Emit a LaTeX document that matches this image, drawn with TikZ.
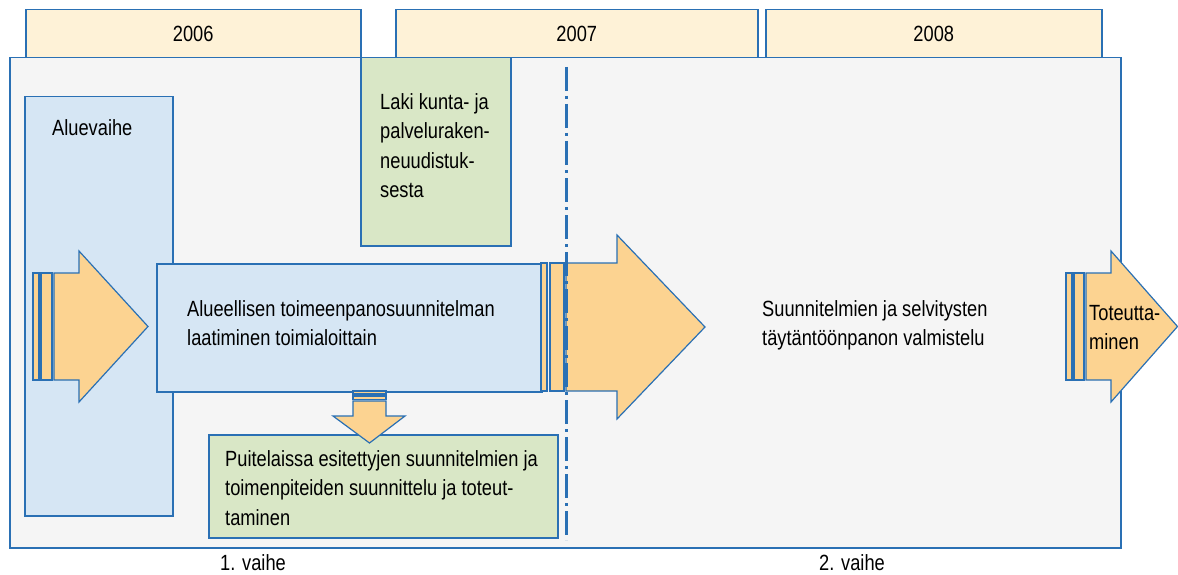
\documentclass[tikz,border=0pt]{standalone}
\usepackage{fontspec}
\setmainfont{Liberation Sans}[FakeStretch=0.83]
\usetikzlibrary{positioning}
\definecolor{rim}{HTML}{2A70B4}
\definecolor{cream}{HTML}{FEF2D7}
\definecolor{paper}{HTML}{F5F5F5}
\definecolor{skyfill}{HTML}{D6E6F4}
\definecolor{leaf}{HTML}{D9E7C6}
\definecolor{apricot}{HTML}{FCD391}

\tikzset{
  frame/.style={draw=rim, line width=1.5pt, inner sep=0pt, anchor=north west},
  yearbox/.style={frame, fill=cream},
  bluebox/.style={frame, fill=skyfill},
  greenbox/.style={frame, fill=leaf},
  arrowfill/.style={draw=rim, line width=1.2pt, fill=apricot, line join=miter},
  txt/.style={inner sep=0pt, align=left, anchor=north west, font=\fontsize{22}{29.5}\selectfont},
  phaseline/.style={draw=rim, line width=3pt, dash pattern=on 24pt off 5pt on 3pt off 5pt}
}

\begin{document}
\begin{tikzpicture}[x=1pt, y=-1pt]
  \useasboundingbox (0,0) rectangle (1178,575);

  % main frame
  \node[frame, fill=paper, minimum width=1111pt, minimum height=490pt] (main) at (9,57) {};

  % years
  \node[yearbox, minimum width=335pt, minimum height=48pt] (y1) at (25,9) {};
  \node[yearbox, minimum width=362pt, minimum height=48pt] (y2) at (395,9) {};
  \node[yearbox, minimum width=336pt, minimum height=48pt] (y3) at (765,9) {};
  \node[txt, anchor=center] at (y1.center) {2006};
  \node[txt, anchor=center] at (y2.center) {2007};
  \node[txt, anchor=center] at (y3.center) {2008};

  % law box
  \node[greenbox, minimum width=150pt, minimum height=188pt] (laki) at (360,57) {};
  \node[txt] (lakitxt) at (380,93) {Laki kunta- ja\\palveluraken-\\neuudistuk-\\sesta};

  % regional phase
  \node[bluebox, minimum width=148pt, minimum height=419pt] (alue) at (24,96) {};
  \node[txt, anchor=west] (aluetxt) at (52,128) {Aluevaihe};

  % left striped arrow
  \filldraw[arrowfill] (33,273) rectangle (39,380);
  \filldraw[arrowfill] (41,273) rectangle (52,380);
  \filldraw[arrowfill] (54,273) -- (79,273) -- (79,251) -- (148,326.5)
    -- (79,402) -- (79,380) -- (54,380) -- cycle;

  % plan box
  \node[bluebox, minimum width=385pt, minimum height=128pt] (plan) at (156,263) {};
  \node[txt] (plantxt) at (187,300) {Alueellisen toimeenpanosuunnitelman\\laatiminen toimialoittain};

  % big striped arrow
  \filldraw[arrowfill] (541,263) rectangle (547,391);
  \filldraw[arrowfill] (550,263) rectangle (564,391);
  \filldraw[arrowfill] (566,263) -- (617,263) -- (617,235) -- (705,327)
    -- (617,419) -- (617,391) -- (566,391) -- cycle;

  % phase border
  \coordinate (ptop) at (566,67);
  \coordinate (pbot) at (566,540);
  \draw[phaseline] (ptop) -- (pbot);

  % framework box
  \node[greenbox, minimum width=349pt, minimum height=103pt] (puite) at (208,434) {};
  \node[txt] (puitetxt) at (225,450) {Puitelaissa esitettyjen suunnitelmien ja\\toimenpiteiden suunnittelu ja toteut-\\taminen};

  % down striped arrow
  \filldraw[arrowfill] (353,391) rectangle (386,394);
  \filldraw[arrowfill] (353,396) rectangle (386,399.5);
  \filldraw[arrowfill] (353,401) -- (386,401) -- (386,416) -- (405,416)
    -- (369.5,443) -- (333,416) -- (353,416) -- cycle;

  % second phase
  \node[txt] (valmtxt) at (762,300) {Suunnitelmien ja selvitysten\\täytäntöönpanon valmistelu};

  % right striped arrow
  \filldraw[arrowfill] (1066,273) rectangle (1072,380);
  \filldraw[arrowfill] (1074,273) rectangle (1084,380);
  \filldraw[arrowfill] (1086,273) -- (1111,273) -- (1111,251) -- (1177.5,326.5)
    -- (1111,402) -- (1111,380) -- (1086,380) -- cycle;
  \node[txt] (totetxt) at (1089,305) {Toteutta-\\minen};

  % phase labels
  \node[txt, anchor=center] (vaihe1) at (253,563) {1. vaihe};
  \node[txt, anchor=center] (vaihe2) at (852,563) {2. vaihe};
\end{tikzpicture}
\end{document}
